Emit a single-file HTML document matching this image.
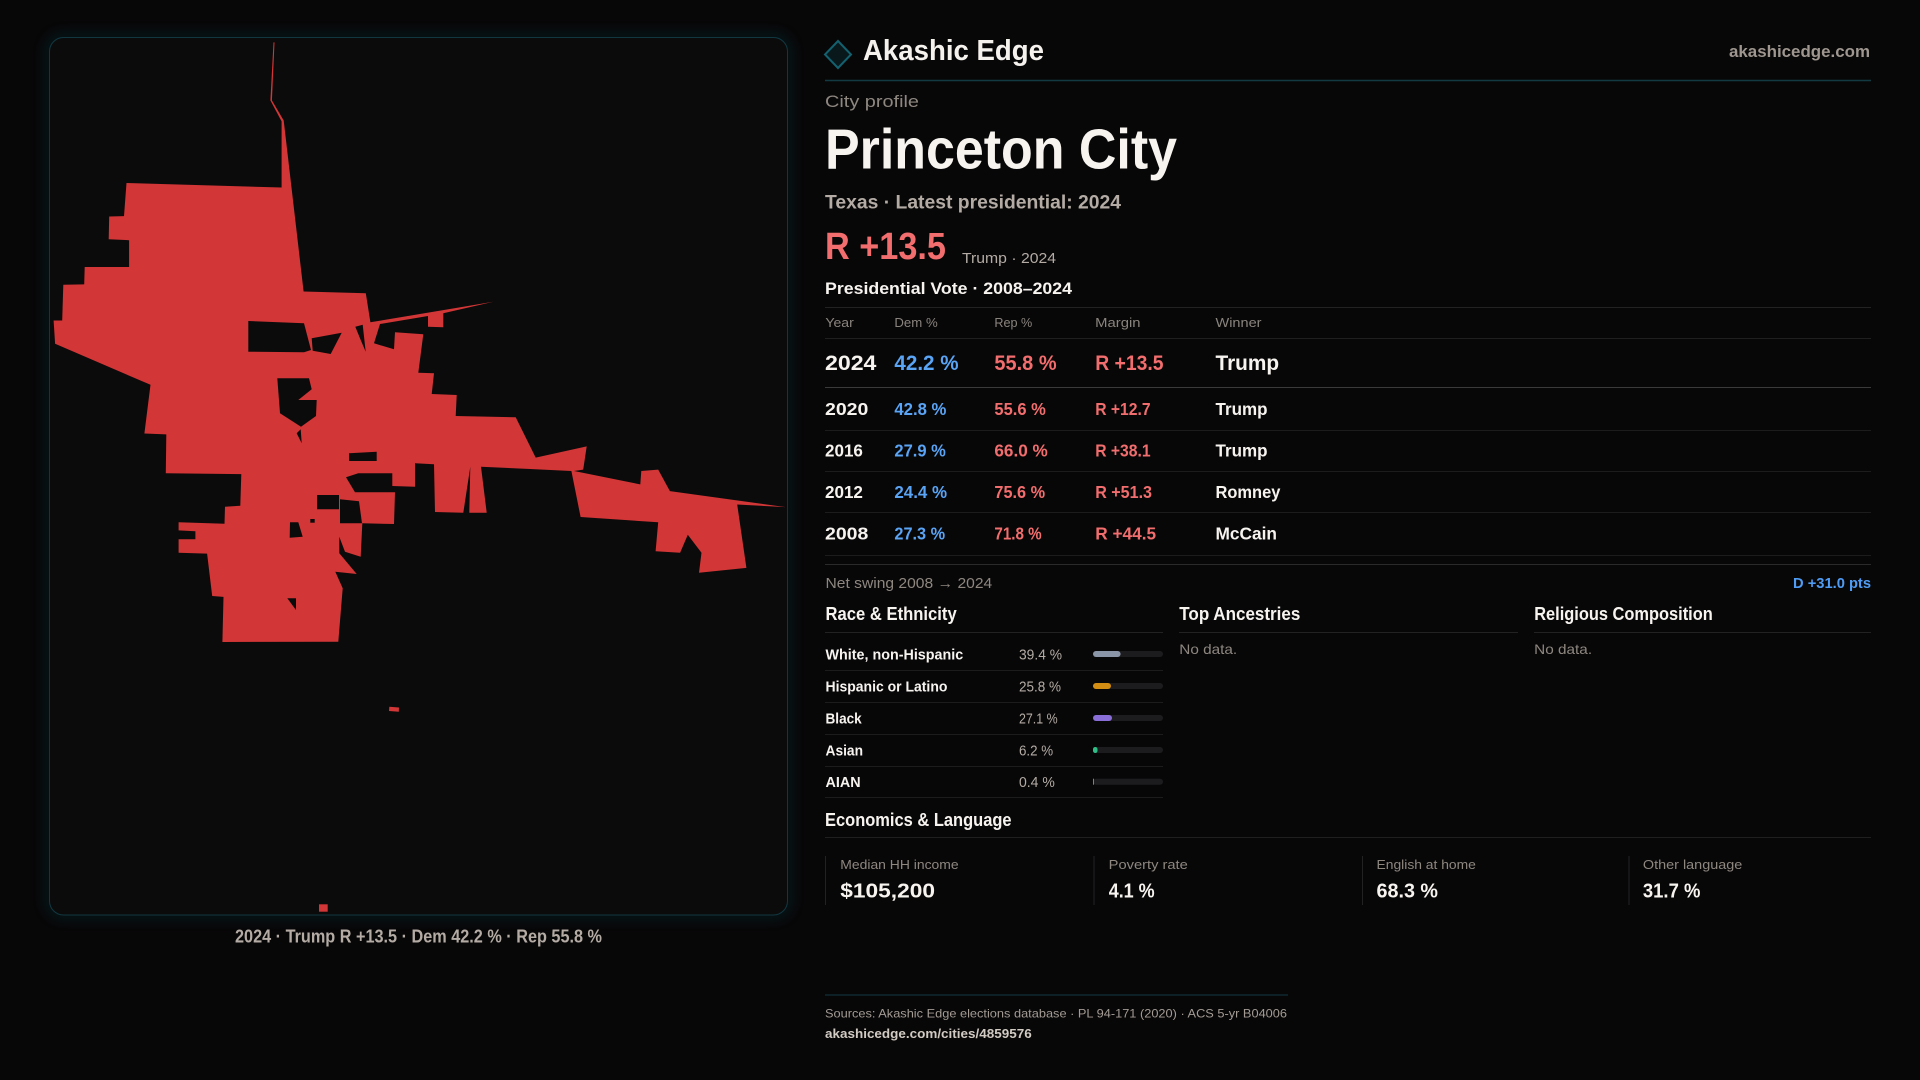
<!DOCTYPE html>
<html><head><meta charset="utf-8"><style>
html,body{margin:0;padding:0;background:#080708;}
svg{display:block}
text{font-family:"Liberation Sans",sans-serif;}
.b{font-weight:700}
</style></head><body>
<svg width="1920" height="1080" viewBox="0 0 1920 1080" xmlns="http://www.w3.org/2000/svg">
<defs>
<filter id="glow" x="-10%" y="-10%" width="120%" height="120%"><feGaussianBlur stdDeviation="6"/></filter>
</defs>
<rect width="1920" height="1080" fill="#080708"/>
<!-- map card -->
<rect x="49" y="37" width="739" height="878" rx="14" fill="none" stroke="#0e3a42" stroke-width="6" opacity="0.5" filter="url(#glow)"/>
<rect x="49.5" y="37.5" width="738" height="877.5" rx="14" fill="#0c0b0c" stroke="#113841" stroke-width="1"/>
<g fill="#d33636">
<path d="M126.5,183 L281.6,187.5 L281.6,121.4 L270.4,100.4 L273.5,42.4 L274.5,42.4 L271.9,100.4 L283.7,120.5 L303.6,291.5 L365.8,293.3 L370.4,322.3 L493.3,301.7 L443.3,313.3 L443.3,327.3 L428,326.7 L428,316 L380,324 L374,343.3 L394,349.3 L395,332.3 L423.3,334.3 L418.3,372.7 L434,373.3 L431.7,394 L456.7,395 L455.7,416 L515.7,417.3 L535.7,457.6 L586.7,446.4 L583.2,469.6 L574,471 L640.3,484.4 L641.3,471 L658.2,469.6 L669.9,491.1 L785.7,507.1 L737.2,504.5 L746.4,567.9 L699,572.8 L701.5,552.7 L687.8,534.8 L680.1,552.7 L655.6,551.3 L658.2,522.3 L580.6,517 L571.4,471 L530,469 L481,466.7 L486.7,512.7 L469.3,512.7 L470.3,466.7 L463.3,512.7 L435,512 L434,464.3 L415,463.3 L415,486.7 L392.3,486 L392.3,473.3 L358.3,473.3 L346,477.3 L355,492.3 L395,492.3 L394,524 L362.3,523.3 L360.7,556.7 L345,551.7 L339.3,536.7 L339.3,553.3 L356.7,574 L335.3,571.7 L342.7,588.3 L338.3,641.7 L222.4,642 L223.5,596.9 L212.2,596 L207.1,553.6 L178.6,552.7 L178.6,539.3 L195.4,539.3 L195.4,531.3 L178.6,530.4 L178.6,522.3 L224.5,523.7 L225,506.7 L240.3,505.8 L241.3,474.1 L165.8,473.2 L166.3,434.4 L144.4,433.5 L150.5,384.8 L55.1,343.8 L53.6,320.5 L62.2,320.5 L63.3,284.8 L84.2,284.4 L84.7,267 L129.1,267 L129.1,240.2 L108.7,239.3 L109.2,216.5 L124,216.1 Z"/>
<polygon points="389.3,706.7 399,707.5 398.8,711.7 389,711"/>
<rect x="319" y="904.3" width="8.7" height="7.4"/>
</g>
<g fill="#0c0b0c">
<polygon points="248.3,321 304,323.3 311,350 304,352.3 248.3,351.7"/>
<polygon points="311.7,338.3 341.7,332.7 330.7,354 312.7,350.7"/>
<polygon points="355.3,326.7 362.7,324.7 365.7,351.7 360.7,340"/>
<polygon points="277.3,378.3 309,378.3 311.7,389.3 298.3,400 316.7,400 316,416 301,426.7 280,413.3"/>
<polygon points="296.7,433.3 300.7,429.3 301.7,443.3"/>
<polygon points="349,453.3 376.7,451.7 376.7,461 349,461"/>
<polygon points="317,495 339,495 339,509.3 317,509.3"/>
<polygon points="340,499.3 359,501.3 362,523.3 340,523.3"/>
<polygon points="290,522.3 298.3,522.3 302.7,536.7 289.7,537.7"/>
<polygon points="310.3,519 314.7,519 314.7,522.7 310.3,522.7"/>
<polygon points="287.3,598.3 296,598.3 296,610"/>
</g>
<text x="235" y="942.7" font-size="18.5" class="b" fill="#b3aba4" textLength="367" lengthAdjust="spacingAndGlyphs">2024 · Trump R +13.5 · Dem 42.2 % · Rep 55.8 %</text>

<!-- header -->
<polygon points="838,41 851,54.5 838,68 825,54.5" fill="#08181b" stroke="#13606e" stroke-width="2"/>
<text x="863" y="60" font-size="29" class="b" fill="#f5f2ee" textLength="181" lengthAdjust="spacingAndGlyphs">Akashic Edge</text>
<text x="1729" y="57" font-size="17" class="b" fill="#9e968f" textLength="141" lengthAdjust="spacingAndGlyphs">akashicedge.com</text>
<line x1="825" y1="80.5" x2="1871" y2="80.5" stroke="#113a43" stroke-width="1.5"/>
<text x="825" y="107" font-size="17" fill="#8e8780" textLength="94" lengthAdjust="spacingAndGlyphs">City profile</text>
<text x="825" y="168.3" font-size="57" class="b" fill="#f7f4f0" textLength="352" lengthAdjust="spacingAndGlyphs">Princeton City</text>
<text x="825" y="208.3" font-size="19.5" class="b" fill="#b3aba4" textLength="296" lengthAdjust="spacingAndGlyphs">Texas · Latest presidential: 2024</text>
<text x="825" y="259" font-size="38" class="b" fill="#f26d6d" textLength="121" lengthAdjust="spacingAndGlyphs">R +13.5</text>
<text x="962" y="263" font-size="15" fill="#b3aba4" textLength="94" lengthAdjust="spacingAndGlyphs">Trump · 2024</text>
<text x="825" y="294" font-size="16.5" class="b" fill="#f7f4f0" textLength="247" lengthAdjust="spacingAndGlyphs">Presidential Vote · 2008–2024</text>
<line x1="825" y1="307.5" x2="1871" y2="307.5" stroke="#222223" stroke-width="1"/>

<!-- table header -->
<g font-size="13" fill="#8a847e">
<text x="825.4" y="327" textLength="28.4" lengthAdjust="spacingAndGlyphs">Year</text>
<text x="894.4" y="327" textLength="43.3" lengthAdjust="spacingAndGlyphs">Dem %</text>
<text x="994.4" y="327" textLength="37.9" lengthAdjust="spacingAndGlyphs">Rep %</text>
<text x="1095.2" y="327" textLength="45.3" lengthAdjust="spacingAndGlyphs">Margin</text>
<text x="1215.5" y="327" textLength="46" lengthAdjust="spacingAndGlyphs">Winner</text>
</g>
<line x1="825" y1="338.5" x2="1871" y2="338.5" stroke="#1f1f20" stroke-width="1"/>
<!-- 2024 -->
<g font-size="21" class="b">
<text x="825" y="370" fill="#f7f4f0" textLength="51.4" lengthAdjust="spacingAndGlyphs">2024</text>
<text x="894.4" y="370" fill="#5aa4f5" textLength="64.2" lengthAdjust="spacingAndGlyphs">42.2 %</text>
<text x="994.4" y="370" fill="#f26d6d" textLength="62.2" lengthAdjust="spacingAndGlyphs">55.8 %</text>
<text x="1095.2" y="370" fill="#f26d6d" textLength="68.3" lengthAdjust="spacingAndGlyphs">R +13.5</text>
<text x="1215.5" y="370" fill="#f7f4f0" textLength="63.6" lengthAdjust="spacingAndGlyphs">Trump</text>
</g>
<line x1="825" y1="387.5" x2="1871" y2="387.5" stroke="#3a3a3b" stroke-width="1"/>
<g font-size="17.5" class="b">
<text x="825" y="415" fill="#f7f4f0" textLength="43.3" lengthAdjust="spacingAndGlyphs">2020</text>
<text x="894.4" y="415" fill="#5aa4f5" textLength="52" lengthAdjust="spacingAndGlyphs">42.8 %</text>
<text x="994.4" y="415" fill="#f26d6d" textLength="51.4" lengthAdjust="spacingAndGlyphs">55.6 %</text>
<text x="1095.2" y="415" fill="#f26d6d" textLength="55.4" lengthAdjust="spacingAndGlyphs">R +12.7</text>
<text x="1215.5" y="415" fill="#f7f4f0" textLength="52" lengthAdjust="spacingAndGlyphs">Trump</text>

<text x="825" y="456.3" fill="#f7f4f0" textLength="37.9" lengthAdjust="spacingAndGlyphs">2016</text>
<text x="894.4" y="456.3" fill="#5aa4f5" textLength="51.4" lengthAdjust="spacingAndGlyphs">27.9 %</text>
<text x="994.4" y="456.3" fill="#f26d6d" textLength="53.4" lengthAdjust="spacingAndGlyphs">66.0 %</text>
<text x="1095.2" y="456.3" fill="#f26d6d" textLength="55.4" lengthAdjust="spacingAndGlyphs">R +38.1</text>
<text x="1215.5" y="456.3" fill="#f7f4f0" textLength="52" lengthAdjust="spacingAndGlyphs">Trump</text>

<text x="825" y="498" fill="#f7f4f0" textLength="37.9" lengthAdjust="spacingAndGlyphs">2012</text>
<text x="894.4" y="498" fill="#5aa4f5" textLength="52.7" lengthAdjust="spacingAndGlyphs">24.4 %</text>
<text x="994.4" y="498" fill="#f26d6d" textLength="50.7" lengthAdjust="spacingAndGlyphs">75.6 %</text>
<text x="1095.2" y="498" fill="#f26d6d" textLength="56.8" lengthAdjust="spacingAndGlyphs">R +51.3</text>
<text x="1215.5" y="498" fill="#f7f4f0" textLength="64.9" lengthAdjust="spacingAndGlyphs">Romney</text>

<text x="825" y="539.6" fill="#f7f4f0" textLength="43.3" lengthAdjust="spacingAndGlyphs">2008</text>
<text x="894.4" y="539.6" fill="#5aa4f5" textLength="50.7" lengthAdjust="spacingAndGlyphs">27.3 %</text>
<text x="994.4" y="539.6" fill="#f26d6d" textLength="47.3" lengthAdjust="spacingAndGlyphs">71.8 %</text>
<text x="1095.2" y="539.6" fill="#f26d6d" textLength="60.9" lengthAdjust="spacingAndGlyphs">R +44.5</text>
<text x="1215.5" y="539.6" fill="#f7f4f0" textLength="61.5" lengthAdjust="spacingAndGlyphs">McCain</text>
</g>
<g stroke="#1c1c1d" stroke-width="1">
<line x1="825" y1="430.5" x2="1871" y2="430.5"/>
<line x1="825" y1="471.5" x2="1871" y2="471.5"/>
<line x1="825" y1="512.5" x2="1871" y2="512.5"/>
<line x1="825" y1="555.5" x2="1871" y2="555.5"/>
</g>
<line x1="825" y1="564.5" x2="1871" y2="564.5" stroke="#2a2a2b" stroke-width="1"/>
<text x="825.5" y="588" font-size="15" fill="#8e8780" textLength="166.7" lengthAdjust="spacingAndGlyphs">Net swing 2008 → 2024</text>
<text x="1793" y="588" font-size="15" class="b" fill="#4f9cf5" textLength="78" lengthAdjust="spacingAndGlyphs">D +31.0 pts</text>

<!-- sections -->
<g font-size="18.5" class="b" fill="#f7f4f0">
<text x="825.5" y="620" textLength="131.2" lengthAdjust="spacingAndGlyphs">Race &amp; Ethnicity</text>
<text x="1179.3" y="620" textLength="121" lengthAdjust="spacingAndGlyphs">Top Ancestries</text>
<text x="1534.2" y="620" textLength="178.6" lengthAdjust="spacingAndGlyphs">Religious Composition</text>
</g>
<g stroke="#222223" stroke-width="1">
<line x1="825" y1="632.5" x2="1163" y2="632.5"/>
<line x1="1179" y1="632.5" x2="1518" y2="632.5"/>
<line x1="1534" y1="632.5" x2="1871" y2="632.5"/>
</g>
<g font-size="14" fill="#8e8780">
<text x="1179.3" y="654" textLength="57.9" lengthAdjust="spacingAndGlyphs">No data.</text>
<text x="1534.2" y="654" textLength="57.9" lengthAdjust="spacingAndGlyphs">No data.</text>
</g>
<g font-size="15" class="b" fill="#f7f4f0">
<text x="825.5" y="659.3" textLength="137.7" lengthAdjust="spacingAndGlyphs">White, non-Hispanic</text>
<text x="825.5" y="691.3" textLength="121.9" lengthAdjust="spacingAndGlyphs">Hispanic or Latino</text>
<text x="825.5" y="723.3" textLength="36.2" lengthAdjust="spacingAndGlyphs">Black</text>
<text x="825.5" y="755.3" textLength="37.5" lengthAdjust="spacingAndGlyphs">Asian</text>
<text x="825.5" y="787" textLength="35.1" lengthAdjust="spacingAndGlyphs">AIAN</text>
</g>
<g font-size="14.5" fill="#b3aba4">
<text x="1019" y="659.3" textLength="43" lengthAdjust="spacingAndGlyphs">39.4 %</text>
<text x="1019" y="691.3" textLength="42" lengthAdjust="spacingAndGlyphs">25.8 %</text>
<text x="1019" y="723.3" textLength="38.6" lengthAdjust="spacingAndGlyphs">27.1 %</text>
<text x="1019" y="755.3" textLength="34.1" lengthAdjust="spacingAndGlyphs">6.2 %</text>
<text x="1019" y="787" textLength="35.8" lengthAdjust="spacingAndGlyphs">0.4 %</text>
</g>
<g fill="#1c1c1e">
<rect x="1093" y="651" width="70" height="6" rx="3"/>
<rect x="1093" y="683" width="70" height="6" rx="3"/>
<rect x="1093" y="715" width="70" height="6" rx="3"/>
<rect x="1093" y="747" width="70" height="6" rx="3"/>
<rect x="1093" y="778.7" width="70" height="6" rx="3"/>
</g>
<rect x="1093" y="651" width="27.6" height="6" rx="3" fill="#8b95a8"/>
<rect x="1093" y="683" width="18" height="6" rx="3" fill="#d38d12"/>
<rect x="1093" y="715" width="19" height="6" rx="3" fill="#8a6ed8"/>
<rect x="1093" y="747" width="4.5" height="6" rx="2.25" fill="#2fbf86"/>
<rect x="1093" y="778.7" width="1" height="6" fill="#c07030"/>
<g stroke="#1c1c1d" stroke-width="1">
<line x1="825" y1="670.5" x2="1163" y2="670.5"/>
<line x1="825" y1="702.5" x2="1163" y2="702.5"/>
<line x1="825" y1="734.5" x2="1163" y2="734.5"/>
<line x1="825" y1="766.5" x2="1163" y2="766.5"/>
<line x1="825" y1="797.5" x2="1163" y2="797.5"/>
</g>

<!-- economics -->
<text x="825" y="826" font-size="18.5" class="b" fill="#f7f4f0" textLength="186.6" lengthAdjust="spacingAndGlyphs">Economics &amp; Language</text>
<line x1="825" y1="837.5" x2="1871" y2="837.5" stroke="#1f1f20" stroke-width="1"/>
<g stroke="#222223" stroke-width="1">
<line x1="825.5" y1="856" x2="825.5" y2="905"/>
<line x1="1094" y1="856" x2="1094" y2="905"/>
<line x1="1362.5" y1="856" x2="1362.5" y2="905"/>
<line x1="1629" y1="856" x2="1629" y2="905"/>
</g>
<g font-size="13" fill="#8e8780">
<text x="840.3" y="869" textLength="118.3" lengthAdjust="spacingAndGlyphs">Median HH income</text>
<text x="1108.7" y="869" textLength="79.1" lengthAdjust="spacingAndGlyphs">Poverty rate</text>
<text x="1376.5" y="869" textLength="99.4" lengthAdjust="spacingAndGlyphs">English at home</text>
<text x="1642.9" y="869" textLength="99.4" lengthAdjust="spacingAndGlyphs">Other language</text>
</g>
<g font-size="20" class="b" fill="#f7f4f0">
<text x="840.3" y="897.7" textLength="94.7" lengthAdjust="spacingAndGlyphs">$105,200</text>
<text x="1108.7" y="897.7" textLength="46" lengthAdjust="spacingAndGlyphs">4.1 %</text>
<text x="1376.5" y="897.7" textLength="61.5" lengthAdjust="spacingAndGlyphs">68.3 %</text>
<text x="1642.9" y="897.7" textLength="57.5" lengthAdjust="spacingAndGlyphs">31.7 %</text>
</g>

<!-- footer -->
<line x1="825" y1="995" x2="1288" y2="995" stroke="#113a43" stroke-width="1"/>
<text x="825" y="1017.6" font-size="12" fill="#a39b94" textLength="462" lengthAdjust="spacingAndGlyphs">Sources: Akashic Edge elections database · PL 94-171 (2020) · ACS 5-yr B04006</text>
<text x="825" y="1038" font-size="12.5" class="b" fill="#d2cbc4" textLength="206.7" lengthAdjust="spacingAndGlyphs">akashicedge.com/cities/4859576</text>
</svg>
</body></html>
